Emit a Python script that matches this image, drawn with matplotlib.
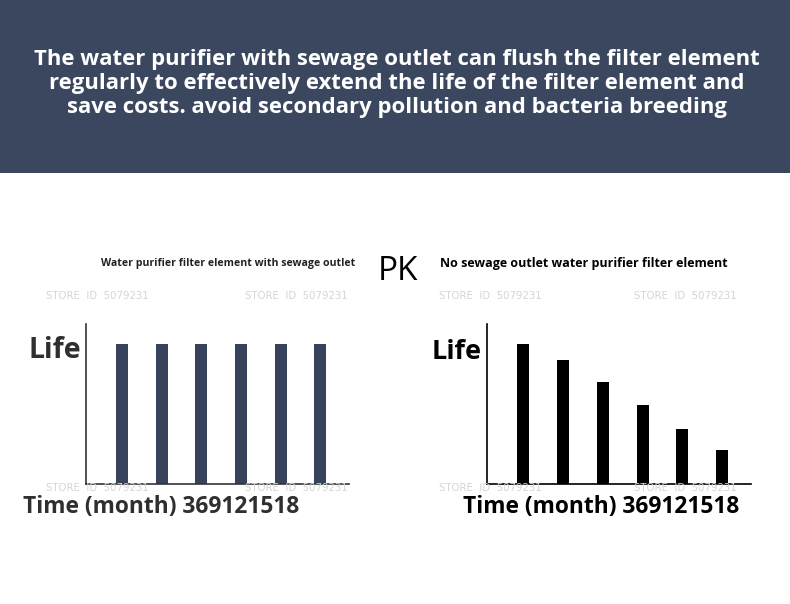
import numpy as np
import matplotlib
matplotlib.use("Agg")
import matplotlib.pyplot as plt
from matplotlib.patches import Rectangle

plt.rcParams['font.family'] = ['Open Sans', 'DejaVu Sans']

months = ["3", "6", "9", "12", "15", "18"]
life_with_outlet = [100, 100, 100, 100, 100, 100]
life_no_outlet = [100, 88, 73, 56, 39, 24]

banner_lines = [
    "The water purifier with sewage outlet can flush the filter element",
    "regularly to effectively extend the life of the filter element and",
    "save costs. avoid secondary pollution and bacteria breeding",
]
title_left = "Water purifier filter element with sewage outlet"
title_right = "No sewage outlet water purifier filter element"
ylabel = "Life"
xlabel = "Time (month) " + "".join(months)
watermark = "STORE  ID  5079231"

W, H = 790, 604
fig = plt.figure(figsize=(W / 100, H / 100), dpi=100)
fig.patch.set_facecolor("white")


def px(x, y):
    return x / W, 1 - y / H


# banner
fig.patches.append(Rectangle((0, 1 - 173 / H), 1, 173 / H, transform=fig.transFigure,
                             facecolor="#3b475f", edgecolor="none", zorder=0))
for i, line in enumerate(banner_lines):
    fig.text(*px(397, 59 + i * 24.5), line, color="white", fontsize=15.9,
             fontweight="bold", ha="center", va="center")

# watermarks
for wx in [97, 296, 490, 685]:
    for wy in [296, 488]:
        fig.text(*px(wx, wy), watermark, color="#d4d4d4", fontsize=7.3,
                 family="DejaVu Sans", ha="center", va="center")


def bar_panel(left, right, values, color, spine_color):
    x0, y_top = px(left, 324)
    x1, y_bot = px(right, 484)
    ax = fig.add_axes([x0, y_bot, x1 - x0, y_top - y_bot])
    ax.patch.set_alpha(0)
    x = np.arange(len(values))
    ax.bar(x, values, width=0.30, color=color)
    ax.set_xlim(-0.905, 5.72)
    ax.set_ylim(0, 114)
    for s in ["top", "right"]:
        ax.spines[s].set_visible(False)
    for s in ["left", "bottom"]:
        ax.spines[s].set_color(spine_color)
        ax.spines[s].set_linewidth(1.2)
    ax.set_xticks([])
    ax.set_yticks([])
    return ax


bar_panel(86, 349, life_with_outlet, "#36435b", "#333333")
bar_panel(487, 751, life_no_outlet, "#000000", "#000000")

# titles
fig.text(*px(228, 263), title_left, fontsize=7.6, fontweight="bold", color="#222222",
         ha="center", va="center")
fig.text(*px(398, 271), "PK", fontsize=24, color="#000000", ha="center", va="center")
fig.text(*px(584, 263), title_right, fontsize=9, fontweight="bold", color="#000000",
         ha="center", va="center")

# axis labels
fig.text(*px(55, 351), ylabel, fontsize=20.5, fontweight="bold", color="#2f2f2f",
         ha="center", va="center")
fig.text(*px(457, 352), ylabel, fontsize=19.5, fontweight="bold", color="#000000",
         ha="center", va="center")
fig.text(*px(161, 507), xlabel, fontsize=16.4, fontweight="bold", color="#2f2f2f",
         ha="center", va="center")
fig.text(*px(601, 507), xlabel, fontsize=16.4, fontweight="bold", color="#000000",
         ha="center", va="center")

fig.savefig("out.png", dpi=100)
